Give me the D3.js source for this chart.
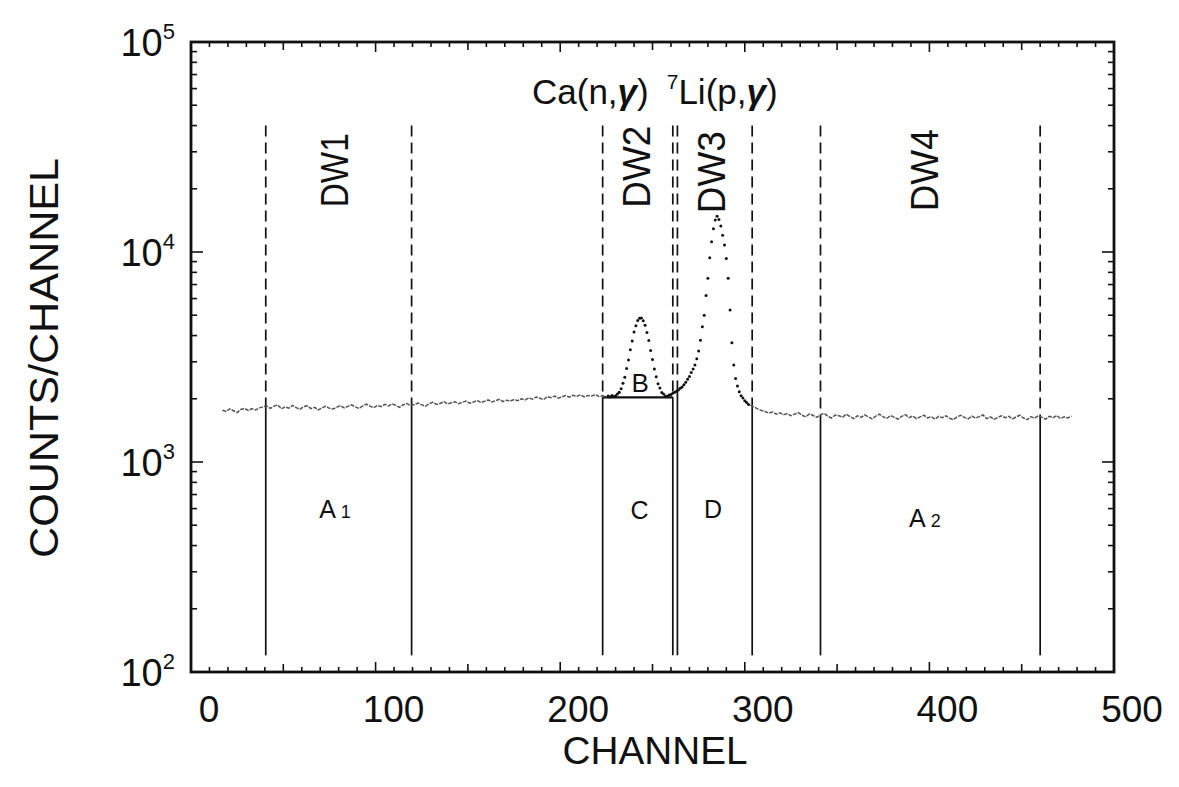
<!DOCTYPE html>
<html><head><meta charset="utf-8">
<script src="https://cdn.jsdelivr.net/npm/d3@7"></script>
<style>
html,body{margin:0;padding:0;background:#fff;}
svg{display:block;}
text{font-family:"Liberation Sans", Arial, sans-serif; fill:#111;}
</style></head><body>
<svg id="chart" width="1179" height="787"></svg>
<script>
// Continuum left of the peaks: channels 17..225, every 2nd channel
const bgLeftStart = 17;
const bgLeft = [
  1765,1740,1790,1755,1720,1780,1800,1760,1795,1770,1810,1830,
  1850,1800,1845,1870,1790,1830,1805,1860,1815,1780,1835,1850,1795,1820,1770,1810,1845,1800,
  1790,1825,1855,1810,1840,1870,1830,1800,1850,1885,1845,1815,1860,1835,1880,
  1850,1890,1860,1820,1875,1900,1855,1880,1910,1870,1845,1895,1925,1880,1900,1940,1890,1915,1935,1895,1925,
  1950,1905,1930,1965,1920,1945,1975,1930,1960,1990,1940,1970,1950,1985,
  1960,2000,1975,2020,1990,2040,2010,1980,2050,2025,2060,2015,2045,
  2070,2035,2080,2055,2090,2040,2075,2060,2095,2050,2070,2045
];
// Peak region, one value per channel: channels 226..302
const peakStart = 226;
const peakCounts = [
  2060,2040,2075,2050,2070,2105,2150,2235,2370,2530,2790,3060,3420,3770,4160,4460,4720,4830,
  4850,4700,4480,4140,3790,3400,3080,2770,2550,2360,2250,2140,2110,2060,2055,
  2085,2095,2125,2150,2175,2200,2245,2275,2335,2395,2475,2555,2665,2770,2900,3100,3380,3800,4400,
  5000,6200,7500,9400,11200,12900,14200,14800,14300,13300,12000,10800,9300,7500,5300,3700,
  2900,2500,2300,2160,2070,2020,1960,1920,1880
];
// Continuum right of the peaks: channels 303..477, every 2nd channel
const bgRightStart = 303;
const bgRight = [
  1870,1830,1790,1760,1740,1710,1730,1690,1715,1680,
  1700,1660,1690,1720,1670,1640,1695,1665,1630,1680,1705,1650,1620,1675,1660,1635,1690,1645,1610,1660,
  1630,1675,1640,1605,1655,1690,1640,1615,1665,1630,1600,1650,1680,1625,1655,1610,1640,1670,1620,1645,
  1600,1650,1625,1660,1615,1590,1640,1670,1630,1605,1655,1620,1645,1675,1610,1640,1595,1630,1660,1625,
  1650,1605,1640,1670,1620,1590,1645,1615,1660,1630,1600,1650,1625,1665,1610,1640,1620,1655
];

// Axis ticks and labels
const xTickValues = [0, 100, 200, 300, 400, 500];
const yTickValues = [1e2, 1e3, 1e4, 1e5];
const yTickExponents = ["2", "3", "4", "5"];

// Window boundaries (channel) and the count level where each dashed marker meets the spectrum
const boundChannels = [40.5, 119.5, 223, 261, 263.5, 304, 341, 460];
const boundLevels   = [1830, 1870, 2033, 2033, 2180, 1860, 1680, 1640];
const dashTop = 40000;
const solidBottom = 120;
// Linear background under the Ca(n,γ) peak (top of region C)
const cBoxChannels = [223, 261];
const cBoxLevel = 2033;

// Window names, placed at (channel, counts)
const windowNames = ["DW1", "DW2", "DW3", "DW4"];
const windowChannels = [85, 248.6, 289.3, 404.6];
const windowCounts = [24500, 25500, 24000, 24500];

// Area labels
const areaNames = ["A", "B", "C", "D", "A"];
const areaSubs = ["1", "", "", "", "2"];
const areaChannels = [78, 243.3, 243, 282.8, 397.6];
const areaCounts = [540, 2150, 535, 540, 490];

const W = 1179, H = 787;
const margin = {left: 191, right: W - 1114, top: 42, bottom: H - 672};

const svg = d3.select("#chart");
const x = d3.scaleLinear().domain([0, 500]).range([margin.left, W - margin.right]);
const y = d3.scaleLog().domain([1e2, 1e5]).range([H - margin.bottom, margin.top]);

const ink = "#111";

// ---- frame and inward ticks ----
const x10 = d3.range(0, 501, 10);
function xTickLen(v) { return v % 100 === 0 ? 10 : (v % 50 === 0 ? 8 : 5); }
const yMinor = [];
for (let e = 2; e < 5; e++) for (let m = 1; m < 10; m++) yMinor.push(m * Math.pow(10, e));
yMinor.push(1e5);
function yTickLen(v) { const l = Math.log10(v); return Math.abs(l - Math.round(l)) < 1e-9 ? 12 : 6; }

const axG = svg.append("g").attr("stroke", ink).attr("fill", "none");
// bottom & top ticks
axG.selectAll("line.bt").data(x10).join("line")
  .attr("x1", d => x(d)).attr("x2", d => x(d))
  .attr("y1", y(1e2)).attr("y2", d => y(1e2) - xTickLen(d)).attr("stroke-width", 1.6);
axG.selectAll("line.tt").data(x10).join("line")
  .attr("x1", d => x(d)).attr("x2", d => x(d))
  .attr("y1", y(1e5)).attr("y2", d => y(1e5) + xTickLen(d)).attr("stroke-width", 1.6);
// left & right ticks
axG.selectAll("line.lt").data(yMinor).join("line")
  .attr("y1", d => y(d)).attr("y2", d => y(d))
  .attr("x1", x(0)).attr("x2", d => x(0) + yTickLen(d)).attr("stroke-width", 1.6);
axG.selectAll("line.rt").data(yMinor).join("line")
  .attr("y1", d => y(d)).attr("y2", d => y(d))
  .attr("x1", x(500)).attr("x2", d => x(500) - yTickLen(d)).attr("stroke-width", 1.6);
axG.append("rect")
  .attr("x", x(0)).attr("y", y(1e5))
  .attr("width", x(500) - x(0)).attr("height", y(1e2) - y(1e5))
  .attr("stroke-width", 2.8);

// x tick labels
svg.append("g").selectAll("text").data(xTickValues).join("text")
  .attr("x", d => x(d) + 18).attr("y", y(1e2) + 50)
  .attr("text-anchor", "middle").attr("font-size", 37)
  .text(d => d);

// y tick labels: 10 with superscript exponent
const yl = svg.append("g").selectAll("text").data(yTickValues).join("text")
  .attr("x", x(0) - 16).attr("y", d => y(d) + 14)
  .attr("text-anchor", "end").attr("font-size", 38);
yl.append("tspan").text("10");
yl.append("tspan").attr("font-size", 22).attr("dy", -17).text((d, i) => yTickExponents[i]);

// axis titles
svg.append("text").attr("x", 655).attr("y", 764)
  .attr("text-anchor", "middle").attr("font-size", 38)
  .attr("textLength", 185).attr("lengthAdjust", "spacingAndGlyphs").text("CHANNEL");
svg.append("text").attr("transform", `translate(58, 358) rotate(-90)`)
  .attr("text-anchor", "middle").attr("font-size", 40)
  .attr("textLength", 400).attr("lengthAdjust", "spacingAndGlyphs").text("COUNTS/CHANNEL");

// ---- window markers: dashed above the spectrum, solid below ----
const mk = svg.append("g").attr("stroke", ink).attr("fill", "none").attr("stroke-width", 1.7);
mk.selectAll("line.dash").data(boundChannels).join("line")
  .attr("x1", d => x(d)).attr("x2", d => x(d))
  .attr("y1", y(dashTop)).attr("y2", (d, i) => y(boundLevels[i]))
  .attr("stroke-dasharray", "11,6");
mk.selectAll("line.solid").data(boundChannels).join("line")
  .attr("x1", d => x(d)).attr("x2", d => x(d))
  .attr("y1", (d, i) => y(boundLevels[i])).attr("y2", y(solidBottom));
mk.append("line")
  .attr("x1", x(cBoxChannels[0])).attr("x2", x(cBoxChannels[1]))
  .attr("y1", y(cBoxLevel)).attr("y2", y(cBoxLevel)).attr("stroke-width", 2.2);

// ---- spectrum: grainy continuum lines, peaks as one dot per channel ----
const leftPts = bgLeft.map((v, i) => [bgLeftStart + 2 * i, v]);
const rightPts = bgRight.map((v, i) => [bgRightStart + 2 * i, v]);
const peakPts = peakCounts.map((v, i) => [peakStart + i, v]);
const line = d3.line().x(d => x(d[0])).y(d => y(d[1]));
[leftPts, rightPts].forEach(pts => {
  svg.append("path").datum(pts).attr("d", line)
    .attr("fill", "none").attr("stroke", "#555").attr("stroke-width", 1.5)
    .attr("stroke-dasharray", "4,1.2");
});
svg.append("g").selectAll("circle").data(peakPts).join("circle")
  .attr("cx", d => x(d[0])).attr("cy", d => y(d[1])).attr("r", 1.5).attr("fill", ink);

// ---- labels ----
svg.append("g").selectAll("text").data(windowNames).join("text")
  .attr("transform", (d, i) => `translate(${x(windowChannels[i])},${y(windowCounts[i])}) rotate(-90)`)
  .attr("text-anchor", "middle").attr("font-size", 38)
  .attr("textLength", (d, i) => i === 0 ? 74 : 82).attr("lengthAdjust", "spacingAndGlyphs")
  .text(d => d);

const al = svg.append("g").selectAll("text").data(areaNames).join("text")
  .attr("x", (d, i) => x(areaChannels[i])).attr("y", (d, i) => y(areaCounts[i]))
  .attr("text-anchor", "middle").attr("font-size", (d, i) => i === 1 ? 26 : 25);
al.append("tspan").text(d => d);
al.append("tspan").attr("font-size", 18).attr("dx", 5).text((d, i) => areaSubs[i]);

// reaction labels above the peaks
const rt = svg.append("text").attr("x", 532).attr("y", 104).attr("font-size", 35);
rt.append("tspan").text("Ca(n,");
rt.append("tspan").attr("font-weight", "bold").attr("font-style", "italic").text("γ");
rt.append("tspan").text(")");
rt.append("tspan").attr("font-size", 21).attr("dx", 18).attr("dy", -15).text("7");
rt.append("tspan").attr("dy", 15).text("Li(p,");
rt.append("tspan").attr("font-weight", "bold").attr("font-style", "italic").text("γ");
rt.append("tspan").text(")");
</script>
</body></html>
